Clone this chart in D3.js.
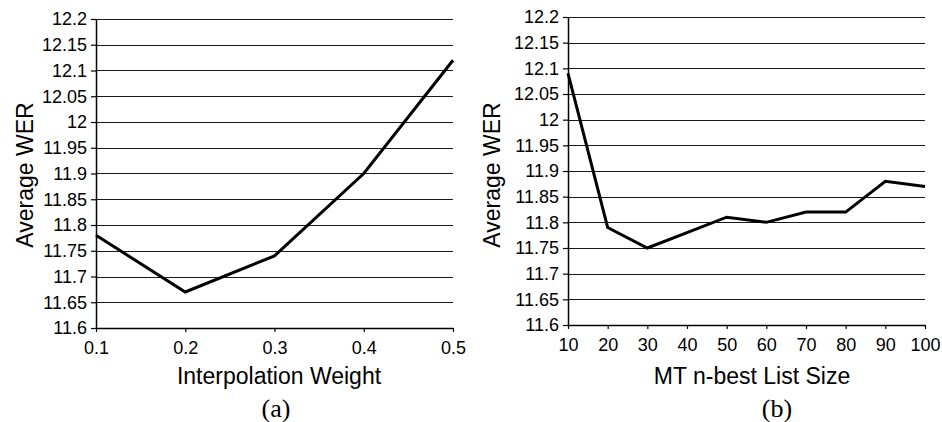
<!DOCTYPE html>
<html><head><meta charset="utf-8">
<script src="https://cdn.jsdelivr.net/npm/d3@7"></script>
<style>
html,body{margin:0;padding:0;background:#fff;}
svg{display:block;}
text{font-family:"Liberation Sans",Arial,sans-serif;fill:#000;}
</style></head>
<body>
<svg id="chart" width="942" height="422"></svg>
<script>
// Data
const weightX = [0.1, 0.2, 0.3, 0.4, 0.5];
const weightWER = [11.78, 11.67, 11.74, 11.90, 12.12];
const nbestX = [10, 20, 30, 40, 50, 60, 70, 80, 90, 100];
const nbestWER = [12.09, 11.79, 11.75, 11.78, 11.81, 11.80, 11.82, 11.82, 11.88, 11.87];
const yTicks = [11.6, 11.65, 11.7, 11.75, 11.8, 11.85, 11.9, 11.95, 12, 12.05, 12.1, 12.15, 12.2];
const yTickLabels = ["11.6","11.65","11.7","11.75","11.8","11.85","11.9","11.95","12","12.05","12.1","12.15","12.2"];
const weightTickLabels = ["0.1","0.2","0.3","0.4","0.5"];
const nbestTickLabels = ["10","20","30","40","50","60","70","80","90","100"];

const svg = d3.select("#chart");
const SANS = '"Liberation Sans",Arial,sans-serif';

function panel(cfg) {
  const g = svg.append("g");
  const x = d3.scaleLinear().domain(cfg.xDomain).range([cfg.x0, cfg.x1]);
  const y = d3.scaleLinear().domain([11.6, 12.2]).range([cfg.y1, cfg.y0]);

  // gridlines
  g.append("g").selectAll("line").data(yTicks.slice(1)).join("line")
    .attr("x1", cfg.x0).attr("x2", cfg.x1)
    .attr("y1", d => Math.round(y(d)) + 0.5).attr("y2", d => Math.round(y(d)) + 0.5)
    .attr("stroke", "#1a1a1a").attr("stroke-width", 1.2);

  // y axis
  const ya = d3.axisLeft(y).tickValues(yTicks).tickFormat((d,i) => yTickLabels[i])
    .tickSize(5).tickPadding(4).tickSizeOuter(0);
  const yg = g.append("g").attr("transform", `translate(${cfg.x0},0)`).call(ya);
  yg.select(".domain").attr("stroke", "#000").attr("stroke-width", 1.5);
  yg.selectAll(".tick line").attr("stroke", "#000").attr("stroke-width", 1.2);
  yg.selectAll("text").attr("font-size", 18).style("font-family", SANS);

  // x axis
  const xa = d3.axisBottom(x).tickValues(cfg.xTicks).tickFormat((d,i) => cfg.xLabels[i])
    .tickSize(4).tickPadding(9).tickSizeOuter(0);
  const xg = g.append("g").attr("transform", `translate(0,${cfg.y1})`).call(xa);
  xg.select(".domain").attr("stroke", "#000").attr("stroke-width", 1.5);
  xg.selectAll(".tick line").attr("stroke", "#000").attr("stroke-width", 1.2);
  xg.selectAll("text").attr("font-size", 18).style("font-family", SANS);

  // line
  const line = d3.line().x(d => x(d[0])).y(d => y(d[1]));
  g.append("path").datum(cfg.xs.map((v,i) => [v, cfg.ys[i]]))
    .attr("d", line).attr("fill", "none").attr("stroke", "#000")
    .attr("stroke-width", 3).attr("stroke-linejoin", "miter");

  // titles
  g.append("text").attr("x", cfg.xTitleX).attr("y", 384).attr("text-anchor", "middle")
    .attr("font-size", 23).style("font-family", SANS).text(cfg.xTitle);
  g.append("text").attr("transform", `translate(${cfg.yTitleX},175) rotate(-90)`)
    .attr("text-anchor", "middle").attr("font-size", 23).style("font-family", SANS).text("Average WER");
  g.append("text").attr("x", cfg.capX).attr("y", 417).attr("text-anchor", "middle")
    .attr("font-size", 26).style("font-family", '"Liberation Serif","Times New Roman",serif')
    .text(cfg.cap);
}

panel({xDomain:[0.1,0.5], x0:96, x1:453, y0:19, y1:328, xTicks:weightX, xLabels:weightTickLabels,
  xs:weightX, ys:weightWER, xTitle:"Interpolation Weight", xTitleX:279, yTitleX:33, cap:"(a)", capX:276});
panel({xDomain:[10,100], x0:568, x1:925, y0:17, y1:325, xTicks:nbestX, xLabels:nbestTickLabels,
  xs:nbestX, ys:nbestWER, xTitle:"MT n-best List Size", xTitleX:752, yTitleX:500, cap:"(b)", capX:777});
</script>
</body></html>
